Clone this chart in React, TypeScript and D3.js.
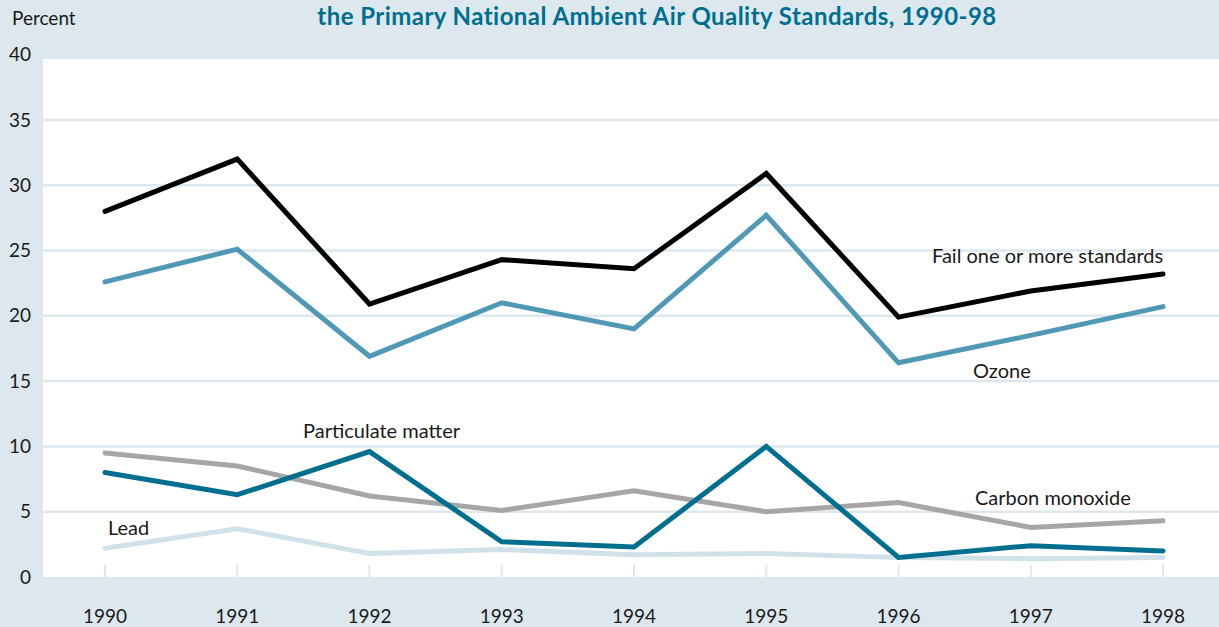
import React from "react";
import * as d3 from "d3";

const years = [1990, 1991, 1992, 1993, 1994, 1995, 1996, 1997, 1998];
const failAny = [28.0, 32.0, 20.9, 24.3, 23.6, 30.9, 19.9, 21.9, 23.2];
const ozone = [22.6, 25.1, 16.9, 21.0, 19.0, 27.7, 16.4, 18.5, 20.7];
const particulate = [8.0, 6.3, 9.6, 2.7, 2.3, 10.0, 1.5, 2.4, 2.0];
const carbonMonoxide = [9.5, 8.5, 6.2, 5.1, 6.6, 5.0, 5.7, 3.8, 4.3];
const lead = [2.2, 3.7, 1.8, 2.1, 1.7, 1.8, 1.5, 1.4, 1.5];
const yTicks = [0, 5, 10, 15, 20, 25, 30, 35, 40];
const title = "the Primary National Ambient Air Quality Standards, 1990-98";

const W = 1219;
const H = 627;
const FONT = "Lato, 'Noto Sans', sans-serif";

export default function App() {
  const x = d3.scaleLinear().domain([1990, 1998]).range([105, 1163]);
  const y = d3.scaleLinear().domain([0, 40]).range([577, 54.6]);
  const line = d3
    .line<number>()
    .x((_, i) => x(years[i]))
    .y((d) => y(d));

  const series = [
    { name: "Lead", data: lead, color: "#d1e1e9" },
    { name: "Carbon monoxide", data: carbonMonoxide, color: "#a6a6a6" },
    { name: "Particulate matter", data: particulate, color: "#006f8f" },
    { name: "Ozone", data: ozone, color: "#5099b6" },
    { name: "Fail one or more standards", data: failAny, color: "#000000" },
  ];

  const labels = [
    { text: "Fail one or more standards", x: 932, y: 263 },
    { text: "Ozone", x: 973, y: 378 },
    { text: "Particulate matter", x: 303, y: 438 },
    { text: "Carbon monoxide", x: 975, y: 505 },
    { text: "Lead", x: 108, y: 535 },
  ];

  const bg = "#dce8ee";

  return (
    <svg
      width={W}
      height={H}
      style={{ position: "absolute", left: 0, top: 0, display: "block" }}
    >
      <rect x={0} y={0} width={W} height={H} fill={bg} />
      <text
        x={657}
        y={24.5}
        textAnchor="middle"
        fontFamily={FONT}
        fontWeight={700}
        fontSize={24}
        letterSpacing={0.45}
        fill="#006f8f"
      >
        {title}
      </text>
      <text x={12} y={25} fontFamily={FONT} fontSize={19} fill="#1a1a1a">
        Percent
      </text>
      <rect x={43} y={59} width={W - 43} height={577 - 59} fill="#ffffff" />
      {yTicks
        .filter((t) => t > 0 && t < 40)
        .map((t) => (
          <line
            key={"g" + t}
            x1={43}
            x2={W}
            y1={y(t)}
            y2={y(t)}
            stroke={bg}
            strokeWidth={2.5}
          />
        ))}
      {yTicks.map((t) => (
        <text
          key={"yt" + t}
          x={31}
          y={y(t)}
          dy="0.35em"
          textAnchor="end"
          fontFamily={FONT}
          fontSize={19}
          fill="#1a1a1a"
        >
          {t}
        </text>
      ))}
      {years.map((yr) => (
        <line
          key={"tk" + yr}
          x1={x(yr)}
          x2={x(yr)}
          y1={565}
          y2={577}
          stroke={bg}
          strokeWidth={2}
        />
      ))}
      {years.map((yr) => (
        <text
          key={"xl" + yr}
          x={x(yr)}
          y={623}
          textAnchor="middle"
          fontFamily={FONT}
          fontSize={19}
          fill="#1a1a1a"
        >
          {yr}
        </text>
      ))}
      {series.map((s) => (
        <path
          key={s.name}
          d={line(s.data) || ""}
          fill="none"
          stroke={s.color}
          strokeWidth={5}
          strokeLinejoin="miter"
          strokeLinecap="round"
        />
      ))}
      {labels.map((l) => (
        <text
          key={l.text}
          x={l.x}
          y={l.y}
          fontFamily={FONT}
          fontSize={20}
          fill="#1a1a1a"
        >
          {l.text}
        </text>
      ))}
    </svg>
  );
}
